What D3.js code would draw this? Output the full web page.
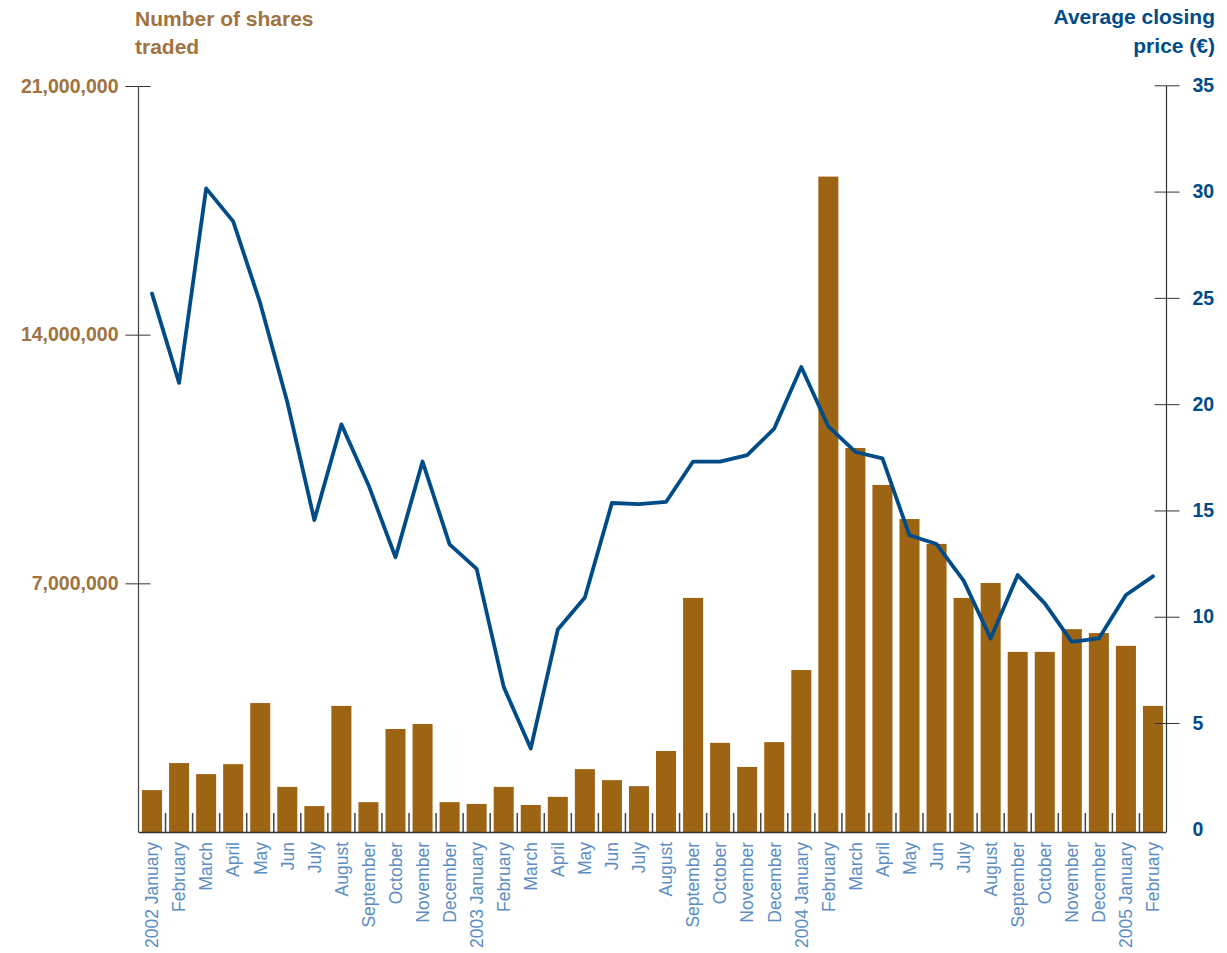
<!DOCTYPE html>
<html>
<head>
<meta charset="utf-8">
<script src="https://cdn.jsdelivr.net/npm/d3@7/dist/d3.min.js"></script>
<style>
  html, body { margin: 0; padding: 0; background: #fff; }
  svg { display: block; font-family: "Liberation Sans", Arial, Helvetica, sans-serif; }
</style>
</head>
<body>
<svg id="chart" width="1227" height="953"></svg>
<script>
const categories = [
  "2002 January","February","March","April","May","Jun","July","August","September","October","November","December",
  "2003 January","February","March","April","May","Jun","July","August","September","October","November","December",
  "2004 January","February","March","April","May","Jun","July","August","September","October","November","December",
  "2005 January","February"
];
const sharesTraded = [
  1180000, 1940000, 1630000, 1910000, 3630000, 1270000, 730000, 3550000, 840000, 2900000, 3040000, 840000,
  790000, 1270000, 760000, 990000, 1770000, 1460000, 1290000, 2280000, 6590000, 2510000, 1830000, 2530000,
  4560000, 18450000, 10810000, 9770000, 8810000, 8110000, 6590000, 7010000, 5070000, 5070000, 5710000, 5600000,
  5240000, 3550000
];
const avgClosingPrice = [
  25.2, 21.0, 30.15, 28.6, 24.75, 20.1, 14.55, 19.05, 16.2, 12.8, 17.3, 13.4,
  12.25, 6.7, 3.8, 9.4, 10.9, 15.35, 15.3, 15.4, 17.3, 17.3, 17.6, 18.85,
  21.75, 18.95, 17.75, 17.45, 13.83, 13.42, 11.7, 8.98, 11.96, 10.63, 8.82, 8.98,
  11.02, 11.9
];
const leftTicks = [7000000, 14000000, 21000000];
const rightTicks = [0, 5, 10, 15, 20, 25, 30, 35];
const leftTitle = ["Number of shares", "traded"];
const rightTitle = ["Average closing", "price (\u20AC)"];

const svg = d3.select("#chart");
const X0 = 138.5, X1 = 1166.5, YB = 832, YT = 86;
const brown = "#9d6414", brownText = "#a0733f", blue = "#004c88", labelBlue = "#5b8dc3";

const x = d3.scaleBand().domain(d3.range(categories.length)).range([X0, X1])
  .paddingInner(0.26).paddingOuter(0.13);
const yL = d3.scaleLinear().domain([0, 21000000]).range([YB, YT]);
const yR = d3.scaleLinear().domain([0, 35]).range([829.3, 85.3]);

// bars
svg.append("g").selectAll("rect").data(sharesTraded).join("rect")
  .attr("x", (d, i) => x(i)).attr("width", x.bandwidth())
  .attr("y", d => yL(d)).attr("height", d => YB - yL(d))
  .attr("fill", brown);

// x tick marks between bars
const step = x.step();
svg.append("g").selectAll("line").data(d3.range(1, categories.length)).join("line")
  .attr("x1", i => X0 + step * i).attr("x2", i => X0 + step * i)
  .attr("y1", YB - 19).attr("y2", YB)
  .attr("stroke", "#444").attr("stroke-width", 1.5);

// bottom axis line
svg.append("line").attr("x1", X0).attr("x2", X1).attr("y1", YB + 0.5).attr("y2", YB + 0.5)
  .attr("stroke", "#333").attr("stroke-width", 1.5);

// x labels
svg.append("g").selectAll("text").data(categories).join("text")
  .attr("transform", (d, i) => `translate(${x(i) + x.bandwidth() / 2},842) rotate(-90)`)
  .attr("text-anchor", "end").attr("dy", "0.36em")
  .attr("font-size", 17.5).attr("fill", labelBlue)
  .text(d => d);

// left axis
const gL = svg.append("g").attr("transform", `translate(${X0},0)`)
  .call(d3.axisLeft(yL).tickValues(leftTicks).tickSize(13).tickPadding(7)
    .tickFormat(d3.format(",")));
gL.select(".domain").remove();
gL.selectAll(".tick line").attr("x1", -13).attr("x2", 12).attr("stroke", "#333");
gL.selectAll(".tick text").attr("font-size", 19.5).attr("font-weight", "bold")
  .attr("fill", brownText).attr("font-family", "'Liberation Sans', Arial, sans-serif");
svg.append("line").attr("x1", X0).attr("x2", X0).attr("y1", YT).attr("y2", YB)
  .attr("stroke", "#444").attr("stroke-width", 1.2);

// right axis
const gR = svg.append("g").attr("transform", `translate(${X1},0)`)
  .call(d3.axisRight(yR).tickValues(rightTicks).tickSize(13).tickPadding(13));
gR.select(".domain").remove();
gR.selectAll(".tick line").attr("x1", -12).attr("x2", 13).attr("stroke", "#333");
gR.selectAll(".tick").filter(d => d === 0).select("line").remove();
gR.selectAll(".tick text").attr("font-size", 19.5).attr("font-weight", "bold")
  .attr("fill", blue).attr("font-family", "'Liberation Sans', Arial, sans-serif");
svg.append("line").attr("x1", X1).attr("x2", X1).attr("y1", YT).attr("y2", YB)
  .attr("stroke", "#333").attr("stroke-width", 1.2);

// price line
const line = d3.line().x((d, i) => x(i) + x.bandwidth() / 2).y(d => yR(d));
svg.append("path").datum(avgClosingPrice).attr("d", line)
  .attr("fill", "none").attr("stroke", blue).attr("stroke-width", 3.8)
  .attr("stroke-linejoin", "round").attr("stroke-linecap", "round");

// titles
svg.append("text").attr("x", 135).attr("y", 26).attr("font-size", 21).attr("font-weight", "bold")
  .attr("fill", brownText)
  .selectAll("tspan").data(leftTitle).join("tspan")
  .attr("x", 135).attr("dy", (d, i) => i ? 28 : 0).text(d => d);
svg.append("text").attr("x", 1215).attr("y", 24).attr("font-size", 21).attr("font-weight", "bold")
  .attr("fill", blue).attr("text-anchor", "end")
  .selectAll("tspan").data(rightTitle).join("tspan")
  .attr("x", 1215).attr("dy", (d, i) => i ? 29 : 0).text(d => d);
</script>
</body>
</html>
